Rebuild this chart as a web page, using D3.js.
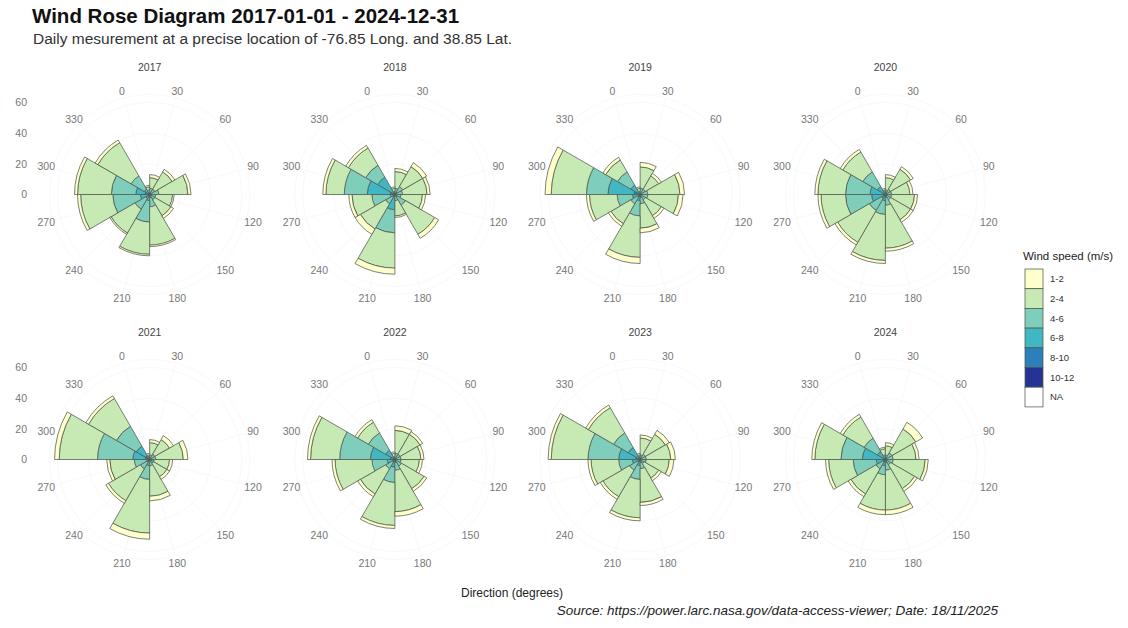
<!DOCTYPE html>
<html>
<head>
<meta charset="utf-8">
<script src="https://cdn.jsdelivr.net/npm/d3@7"></script>
<style>
  body { margin: 0; background: #fff; }
  svg { display: block; font-family: "Liberation Sans", Arial, sans-serif; }
</style>
</head>
<body>
<svg width="1128" height="628"></svg>
<script>
// panels, direction bins and wind speed classes
const years = [2017, 2018, 2019, 2020, 2021, 2022, 2023, 2024];
const directions = [0, 30, 60, 90, 120, 150, 180, 210, 240, 270, 300, 330];
const speedBins = ["1-2", "2-4", "4-6", "6-8", "8-10", "10-12", "NA"];
const speedColors = ["#ffffcc", "#c7e9b4", "#7fcdbb", "#41b6c4", "#2c7fb8", "#253494", "#ffffff"];
const radialTicks = [0, 20, 40, 60];

// number of days per year (rows, same order as years) and direction (columns)
const days_1_2 = [
  [1, 2, 2, 2, 1, 2, 1, 1, 1, 2, 2, 2],
  [1, 2, 3, 2, 2, 3, 1, 4, 4, 2, 2, 2],
  [1, 3, 2, 3, 3, 2, 3, 4, 2, 2, 4, 2],
  [1, 2, 2, 2, 2, 2, 2, 2, 2, 2, 2, 2],
  [1, 2, 3, 3, 2, 2, 3, 4, 2, 2, 3, 2],
  [1, 3, 2, 2, 2, 2, 3, 2, 2, 2, 2, 2],
  [1, 2, 3, 3, 3, 2, 2, 2, 2, 2, 2, 2],
  [1, 2, 5, 2, 2, 2, 3, 3, 2, 2, 2, 2]
];
const days_2_4 = [
  [2, 7, 13, 19, 11, 12, 25, 21, 18, 21, 22, 25],
  [2, 11, 15, 16, 14, 22, 10, 23, 19, 13, 12, 13],
  [2, 14, 10, 21, 20, 12, 16, 27, 15, 18, 23, 9],
  [1, 8, 15, 12, 15, 15, 28, 30, 24, 16, 18, 15],
  [1, 8, 11, 18, 10, 10, 20, 35, 24, 16, 25, 21],
  [2, 15, 15, 13, 12, 17, 27, 28, 19, 24, 19, 8],
  [1, 11, 15, 16, 15, 11, 22, 25, 20, 18, 24, 19],
  [4, 6, 18, 15, 21, 18, 26, 23, 19, 16, 17, 16]
];
const days_4_6 = [
  [2, 3, 3, 5, 3, 3, 6, 14, 8, 18, 16, 10],
  [1, 3, 4, 4, 3, 6, 3, 15, 5, 12, 15, 9],
  [1, 3, 3, 4, 4, 3, 4, 10, 5, 10, 14, 10],
  [1, 2, 3, 3, 3, 3, 5, 9, 9, 17, 16, 11],
  [1, 2, 3, 3, 2, 2, 3, 9, 5, 8, 23, 15],
  [1, 3, 3, 3, 3, 4, 5, 10, 5, 10, 20, 13],
  [1, 2, 3, 3, 3, 2, 4, 9, 6, 9, 20, 11],
  [2, 2, 4, 4, 4, 3, 5, 6, 5, 15, 14, 10]
];
const days_6_8 = [
  [1, 1, 1, 1, 1, 1, 2, 3, 2, 5, 6, 3],
  [1, 1, 2, 1, 1, 2, 1, 9, 2, 3, 15, 12],
  [1, 1, 1, 1, 1, 1, 2, 3, 2, 4, 17, 6],
  [1, 1, 1, 1, 1, 1, 2, 3, 3, 8, 9, 5],
  [1, 1, 1, 1, 1, 1, 1, 3, 2, 2, 8, 7],
  [1, 1, 1, 1, 1, 1, 2, 4, 2, 4, 13, 6],
  [1, 1, 1, 1, 1, 1, 2, 3, 2, 4, 11, 8],
  [1, 1, 1, 1, 1, 1, 2, 3, 2, 5, 14, 5]
];
const days_8_10 = [
  [0, 0, 0, 0, 0, 0, 0, 1, 1, 1, 2, 1],
  [0, 0, 0, 0, 0, 0, 0, 1, 0, 0, 2, 1],
  [0, 0, 0, 0, 0, 0, 0, 1, 0, 1, 3, 1],
  [0, 0, 0, 0, 0, 0, 0, 1, 0, 1, 1, 1],
  [0, 0, 0, 0, 0, 0, 0, 1, 0, 0, 2, 2],
  [0, 0, 0, 0, 0, 0, 0, 1, 0, 1, 2, 1],
  [0, 0, 0, 0, 0, 0, 0, 1, 0, 1, 2, 1],
  [0, 0, 0, 0, 0, 0, 0, 1, 0, 1, 1, 1]
];
const days_10_12 = [
  [0, 0, 0, 0, 0, 0, 0, 0, 0, 0, 1, 0],
  [0, 0, 0, 0, 0, 0, 0, 0, 0, 0, 1, 0],
  [0, 0, 0, 0, 0, 0, 0, 0, 0, 0, 1, 0],
  [0, 0, 0, 0, 0, 0, 0, 0, 0, 0, 0, 0],
  [0, 0, 0, 0, 0, 0, 0, 0, 0, 0, 1, 1],
  [0, 0, 0, 0, 0, 0, 0, 0, 0, 0, 1, 0],
  [0, 0, 0, 0, 0, 0, 0, 0, 0, 0, 1, 0],
  [0, 0, 0, 0, 0, 0, 0, 0, 0, 0, 0, 0]
];

const seriesBySpeed = {
  "1-2": days_1_2, "2-4": days_2_4, "4-6": days_4_6,
  "6-8": days_6_8, "8-10": days_8_10, "10-12": days_10_12
};
// strongest winds stacked nearest the centre, weakest on the outside
const stackKeys = ["10-12", "8-10", "6-8", "4-6", "2-4", "1-2"];

const svg = d3.select("svg");
const color = d3.scaleOrdinal().domain(speedBins).range(speedColors);

// facet grid
const colScale = d3.scaleBand().domain([0, 1, 2, 3]).range([27, 1008]);
const rowScale = d3.scaleBand().domain([0, 1]).range([62, 592]);

// polar scales: each bar spans the 30 degrees ending at its label
const theta = d3.scaleBand()
  .domain(directions)
  .range([-Math.PI / 6, 2 * Math.PI - Math.PI / 6]);
const r = d3.scaleLinear().domain([0, 60]).range([0, 92]);
const gridR = 100;
const labelR = 107;

const arc = d3.arc()
  .innerRadius(d => r(d[0]))
  .outerRadius(d => r(d[1]))
  .startAngle(d => theta(d.data.dir))
  .endAngle(d => theta(d.data.dir) + theta.bandwidth());

const stack = d3.stack().keys(stackKeys);

years.forEach((year, yi) => {
  const col = yi % 4, row = Math.floor(yi / 4);
  const cx = colScale(col) + colScale.bandwidth() / 2;
  const cy = rowScale(row) + rowScale.bandwidth() / 2;
  const g = svg.append("g").attr("transform", `translate(${cx},${cy})`);

  // grid (very faint)
  g.selectAll(".ring").data(radialTicks.filter(t => t > 0)).join("circle")
    .attr("r", d => r(d))
    .attr("fill", "none").attr("stroke", "#f3f3f3").attr("stroke-width", 0.6);
  g.append("circle").attr("r", gridR)
    .attr("fill", "none").attr("stroke", "#f3f3f3").attr("stroke-width", 0.6);
  g.selectAll(".spoke").data(directions).join("line")
    .attr("x1", 0).attr("y1", 0)
    .attr("x2", d => gridR * Math.sin(theta(d) + theta.bandwidth() / 2))
    .attr("y2", d => -gridR * Math.cos(theta(d) + theta.bandwidth() / 2))
    .attr("stroke", "#f3f3f3").attr("stroke-width", 0.6);

  // stacked bars
  const rows = directions.map((dir, di) => {
    const o = { dir: dir };
    stackKeys.forEach(k => { o[k] = seriesBySpeed[k][yi][di]; });
    return o;
  });
  const layers = stack(rows);
  g.selectAll(".layer").data(layers).join("g")
    .attr("fill", d => color(d.key))
    .selectAll("path").data(d => d.filter(s => s[1] > s[0])).join("path")
    .attr("d", arc)
    .attr("stroke", "#4f5a4f").attr("stroke-width", 0.75);

  // direction labels
  g.selectAll(".dirlab").data(directions).join("text")
    .attr("x", d => labelR * Math.sin(theta(d) + theta.bandwidth() / 2))
    .attr("y", d => -labelR * Math.cos(theta(d) + theta.bandwidth() / 2))
    .attr("dy", "0.35em")
    .attr("text-anchor", "middle")
    .attr("font-size", 10.5).attr("fill", "#777")
    .text(d => d);

  // facet strip
  g.append("text")
    .attr("y", -127).attr("dy", "0.35em")
    .attr("text-anchor", "middle")
    .attr("font-size", 10.5).attr("fill", "#444")
    .text(year);

  // radial axis on the left column only
  if (col === 0) {
    svg.append("g").selectAll("text").data(radialTicks).join("text")
      .attr("x", 27)
      .attr("y", d => cy - r(d))
      .attr("dy", "0.35em")
      .attr("text-anchor", "end")
      .attr("font-size", 10.5).attr("fill", "#777")
      .text(d => d);
  }
});

// titles
svg.append("text").attr("x", 32).attr("y", 23)
  .attr("font-size", 20.5).attr("font-weight", "bold").attr("fill", "#111")
  .text("Wind Rose Diagram 2017-01-01 - 2024-12-31");
svg.append("text").attr("x", 33).attr("y", 44)
  .attr("font-size", 15.5).attr("fill", "#333")
  .text("Daily mesurement at a precise location of -76.85 Long. and 38.85 Lat.");

svg.append("text").attr("x", 512).attr("y", 597)
  .attr("text-anchor", "middle")
  .attr("font-size", 12).attr("fill", "#222")
  .text("Direction (degrees)");
svg.append("text").attr("x", 998).attr("y", 615)
  .attr("text-anchor", "end")
  .attr("font-size", 13.5).attr("font-style", "italic").attr("fill", "#222")
  .text("Source: https://power.larc.nasa.gov/data-access-viewer; Date: 18/11/2025");

// legend
const legend = svg.append("g").attr("transform", "translate(1023,0)");
legend.append("text").attr("x", 0).attr("y", 260)
  .attr("font-size", 11.5).attr("fill", "#222")
  .text("Wind speed (m/s)");
const keyY = d3.scaleBand().domain(speedBins).range([269, 269 + 19.7 * speedBins.length]);
legend.selectAll("rect").data(speedBins).join("rect")
  .attr("x", 2).attr("y", d => keyY(d))
  .attr("width", 18).attr("height", keyY.bandwidth())
  .attr("fill", d => color(d))
  .attr("stroke", "#4f5a4f").attr("stroke-width", 0.75);
legend.selectAll(".klab").data(speedBins).join("text")
  .attr("x", 27).attr("y", d => keyY(d) + keyY.bandwidth() / 2)
  .attr("dy", "0.35em")
  .attr("font-size", 9.5).attr("fill", "#333")
  .text(d => d);
</script>
</body>
</html>
